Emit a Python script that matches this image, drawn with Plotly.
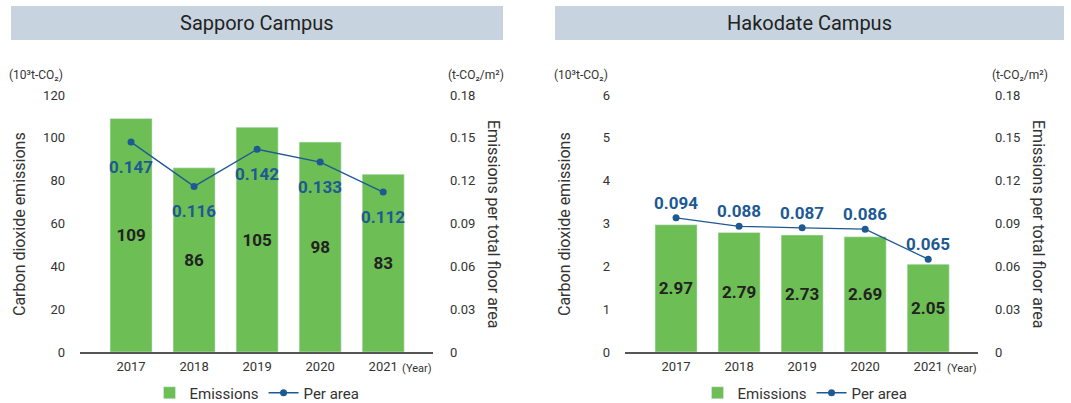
import plotly.graph_objects as go

years = ["2017", "2018", "2019", "2020", "2021"]
sapporo_emis = [109, 86, 105, 98, 83]
sapporo_area = [0.147, 0.116, 0.142, 0.133, 0.112]
hakodate_emis = [2.97, 2.79, 2.73, 2.69, 2.05]
hakodate_area = [0.094, 0.088, 0.087, 0.086, 0.065]

W, H = 1071, 403
GREEN = "#6dbe54"
BLUE = "#1d5a93"
HEAD = "#c7d4df"
TXT = "#333333"
FONT = "Roboto"

def px(x):
    return x / W

def py(y):
    return 1 - y / H

fig = go.Figure()

fig.add_trace(go.Bar(x=years, y=sapporo_emis, name="Emissions", marker_color=GREEN,
                     text=[str(v) for v in sapporo_emis], textposition="inside",
                     insidetextanchor="middle",
                     textfont=dict(family=FONT, size=17, color="#222222", weight="bold"),
                     xaxis="x", yaxis="y", legend="legend"))
fig.add_trace(go.Scatter(x=years, y=sapporo_area, name="Per area", mode="lines+markers",
                         line=dict(color=BLUE, width=1.3), marker=dict(size=7, color=BLUE),
                         xaxis="x", yaxis="y2", legend="legend"))
fig.add_trace(go.Bar(x=years, y=hakodate_emis, name="Emissions", marker_color=GREEN,
                     text=[f"{v:.2f}" for v in hakodate_emis], textposition="inside",
                     insidetextanchor="middle",
                     textfont=dict(family=FONT, size=17, color="#222222", weight="bold"),
                     xaxis="x2", yaxis="y3", legend="legend2"))
fig.add_trace(go.Scatter(x=years, y=hakodate_area, name="Per area", mode="lines+markers",
                         line=dict(color=BLUE, width=1.3), marker=dict(size=7, color=BLUE),
                         xaxis="x2", yaxis="y4", legend="legend2"))

tickfont = dict(family=FONT, size=13, color=TXT)
xcommon = dict(type="category", range=[-0.81, 4.79], showgrid=False, showline=True,
               linecolor="#555555", linewidth=1.5, ticks="", tickfont=tickfont,
               ticklabelstandoff=2, fixedrange=True, automargin=False)
d1 = [px(80), px(433)]
d2 = [px(625), px(978)]
ydom = [py(352), py(95)]

left_common = dict(showgrid=False, zeroline=False, showline=False, ticks="",
                   tickfont=tickfont, ticklabelstandoff=14, automargin=False)
right_common = dict(showgrid=False, zeroline=False, showline=False, ticks="",
                    tickfont=tickfont, ticklabelstandoff=16, side="right", automargin=False,
                    range=[0, 0.18], tickvals=[0, 0.03, 0.06, 0.09, 0.12, 0.15, 0.18],
                    ticktext=["0", "0.03", "0.06", "0.09", "0.12", "0.15", "0.18"])

fig.update_layout(
    width=W, height=H, margin=dict(l=0, r=0, t=0, b=0, autoexpand=False),
    paper_bgcolor="white", plot_bgcolor="white",
    font=dict(family=FONT, color=TXT),
    bargap=0.333,
    xaxis=dict(domain=d1, anchor="y", **xcommon),
    xaxis2=dict(domain=d2, anchor="y3", **xcommon),
    yaxis=dict(domain=ydom, anchor="x", range=[0, 120], tickvals=[0, 20, 40, 60, 80, 100, 120], **left_common),
    yaxis2=dict(overlaying="y", anchor="x", **right_common),
    yaxis3=dict(domain=ydom, anchor="x2", range=[0, 6], tickvals=[0, 1, 2, 3, 4, 5, 6], **left_common),
    yaxis4=dict(overlaying="y3", anchor="x2", **right_common),
    legend=dict(orientation="h", x=px(257), xanchor="center", y=py(393), yanchor="middle",
                font=dict(family=FONT, size=15, color=TXT), bgcolor="rgba(0,0,0,0)",
                itemwidth=30, tracegroupgap=0),
    legend2=dict(orientation="h", x=px(805), xanchor="center", y=py(393), yanchor="middle",
                 font=dict(family=FONT, size=15, color=TXT), bgcolor="rgba(0,0,0,0)",
                 itemwidth=30, tracegroupgap=0),
    showlegend=True,
)

shapes = []
annotations = []
for (x0, x1, title) in [(11, 503, "Sapporo Campus"), (555, 1064, "Hakodate Campus")]:
    shapes.append(dict(type="rect", xref="paper", yref="paper", x0=px(x0), x1=px(x1),
                       y0=py(40), y1=py(6), fillcolor=HEAD, line=dict(width=0), layer="below"))
    annotations.append(dict(text=title, xref="paper", yref="paper", x=px((x0 + x1) / 2), y=py(23),
                            showarrow=False, font=dict(family=FONT, size=20, color="#222222"),
                            xanchor="center", yanchor="middle"))

# value labels of the per-area line (category index on the x axis)
for i, v in enumerate(sapporo_area):
    annotations.append(dict(text=f"<b>{v:.3f}</b>", xref="x", yref="y2", x=i, y=v, yshift=-25,
                            showarrow=False, xanchor="center", yanchor="middle",
                            font=dict(family=FONT, size=17, color=BLUE)))
for i, v in enumerate(hakodate_area):
    annotations.append(dict(text=f"<b>{v:.3f}</b>", xref="x2", yref="y4", x=i, y=v, yshift=15,
                            showarrow=False, xanchor="center", yanchor="middle",
                            font=dict(family=FONT, size=17, color=BLUE)))

def panel_annots(unit_left_x, unit_right_x, ltitle_x, rtitle_x, year_x):
    a = []
    a.append(dict(text="(10³t-CO₂)", xref="paper", yref="paper", x=px(unit_left_x), y=py(75),
                  showarrow=False, xanchor="left", yanchor="middle",
                  font=dict(family=FONT, size=12, color=TXT)))
    a.append(dict(text="(t-CO₂/m²)", xref="paper", yref="paper", x=px(unit_right_x), y=py(75),
                  showarrow=False, xanchor="left", yanchor="middle",
                  font=dict(family=FONT, size=12, color=TXT)))
    a.append(dict(text="Carbon dioxide emissions", xref="paper", yref="paper", x=px(ltitle_x),
                  y=py(224), showarrow=False, textangle=-90, xanchor="center", yanchor="middle",
                  font=dict(family=FONT, size=16, color=TXT)))
    a.append(dict(text="Emissions per total floor area", xref="paper", yref="paper", x=px(rtitle_x),
                  y=py(224), showarrow=False, textangle=90, xanchor="center", yanchor="middle",
                  font=dict(family=FONT, size=16, color=TXT)))
    a.append(dict(text="(Year)", xref="paper", yref="paper", x=px(year_x), y=py(368),
                  showarrow=False, xanchor="right", yanchor="middle",
                  font=dict(family=FONT, size=11, color=TXT)))
    return a

annotations += panel_annots(7, 446, 19, 494, 434)
annotations += panel_annots(552, 990, 564, 1039, 979)

fig.update_layout(shapes=shapes, annotations=annotations)
fig.write_html("out.html")
